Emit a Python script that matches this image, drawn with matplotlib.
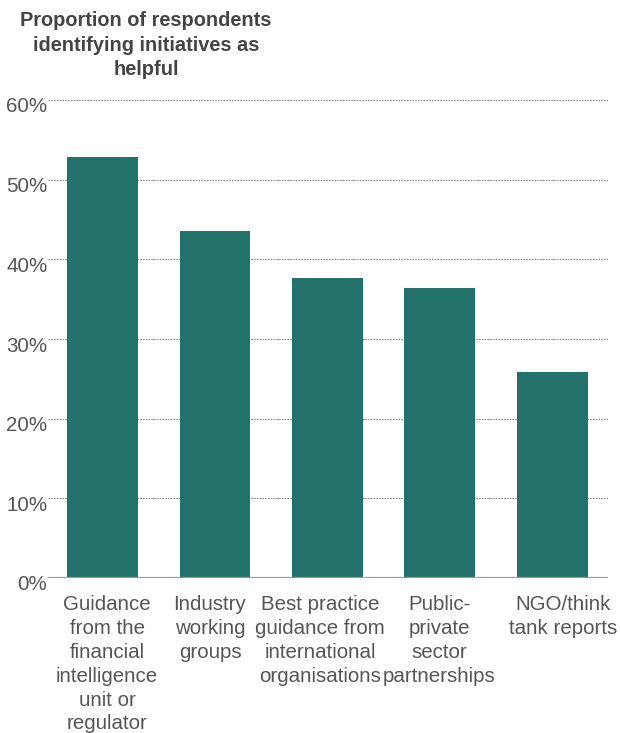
import matplotlib.pyplot as plt
import matplotlib.transforms as mtransforms
from matplotlib.ticker import FuncFormatter

plt.rcParams['font.family'] = ['Liberation Sans', 'DejaVu Sans']

categories = ['Guidance\nfrom the\nfinancial\nintelligence\nunit or\nregulator',
              'Industry\nworking\ngroups',
              'Best practice\nguidance from\ninternational\norganisations',
              'Public-\nprivate\nsector\npartnerships',
              'NGO/think\ntank reports']
values = [52.8, 43.5, 37.6, 36.4, 25.8]
yticks = [0, 10, 20, 30, 40, 50, 60]

# horizontal nudges (px) so neighbouring wrapped labels don't collide
label_shift = [4.5, -5, -7.5, -0.5, 10.5]

bar_color = '#22716b'
text_color = '#555555'

fig = plt.figure(figsize=(6.2, 7.33), dpi=100)
ax = fig.add_axes([48 / 620, 1 - 578 / 733, 560 / 620, 478 / 733])

x = list(range(len(categories)))
ax.bar(x, values, width=0.63, color=bar_color, zorder=3)

ax.set_xlim(-0.485, 4.495)
ax.set_ylim(0, 60)
ax.set_yticks(yticks)
ax.yaxis.set_major_formatter(FuncFormatter(lambda v, p: f'{v:.0f}%'))
ax.grid(axis='y', linestyle=(0, (1.5, 1)), color='#8a8a8a', linewidth=0.8, zorder=1)
ax.axhline(0, color='#999999', linewidth=1.6, zorder=4)

for s in ax.spines.values():
    s.set_visible(False)

ax.tick_params(axis='y', length=0, pad=0.5, labelsize=14.8, labelcolor=text_color)
ax.tick_params(axis='x', length=0, pad=12.5, labelsize=14.8, labelcolor=text_color)
ax.set_xticks(x)
ax.set_xticklabels(categories, linespacing=1.32)

for lbl, dx in zip(ax.get_xticklabels(), label_shift):
    lbl.set_transform(lbl.get_transform() +
                      mtransforms.ScaledTranslation(dx / 100, 0, fig.dpi_scale_trans))

# nudge the y labels a little below their gridlines
offset = mtransforms.ScaledTranslation(0, -5 / 100, fig.dpi_scale_trans)
for lbl in ax.get_yticklabels():
    lbl.set_transform(lbl.get_transform() + offset)

fig.text(146 / 620, 1 - 11 / 733, 'Proportion of respondents\nidentifying initiatives as\nhelpful',
         ha='center', va='top', fontsize=14.4, fontweight='bold', color='#444444', linespacing=1.37)

fig.savefig('out.png', dpi=100, facecolor='white')
